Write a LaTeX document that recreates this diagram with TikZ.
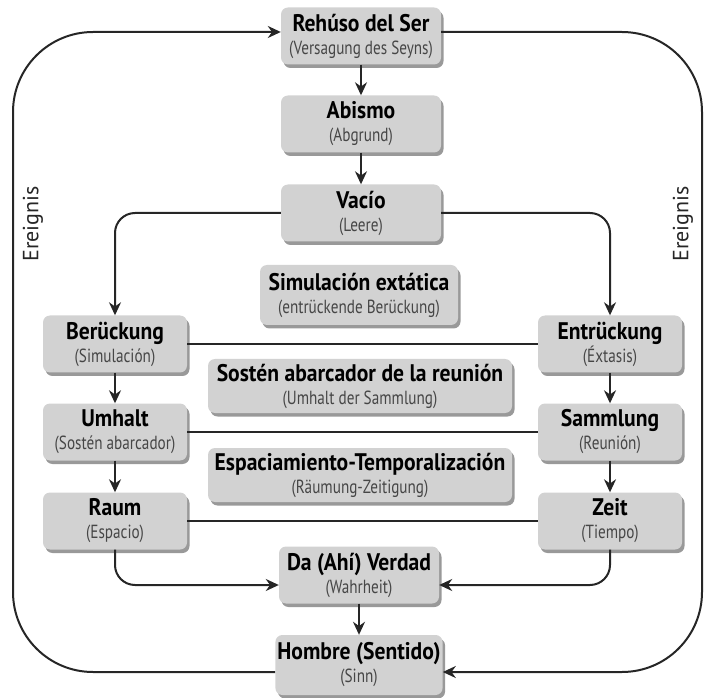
\documentclass[tikz,border=0pt]{standalone}
\usepackage{fontspec}
\setmainfont{PT Sans}[FakeStretch=0.9]
\newfontfamily\evfont{PT Sans}
\newfontfamily\subfont{PT Sans}[FakeStretch=0.8]
\usepackage{tikz}
\usetikzlibrary{calc,shadows,arrows.meta}
\definecolor{boxgray}{RGB}{210,210,210}
\definecolor{subgray}{RGB}{70,70,70}
\newcommand{\sublbl}{\subfont\fontsize{19}{19}\selectfont\mdseries\color{subgray}}
\tikzset{
% Box styles: one grey box, three widths
concept node/.style={rectangle,rounded corners=7,fill=boxgray,align=center,inner sep=2,
  drop shadow={shadow xshift=2.5,shadow yshift=-3.5,fill=black,opacity=.4},
  font=\fontsize{24}{23}\selectfont\bfseries},
side node/.style={concept node,minimum width=144,minimum height=57},
mid node/.style={concept node,minimum width=160,minimum height=57},
wide node/.style={concept node,minimum width=304,minimum height=54},
% Connectors
link/.style={line width=2,draw=black!85},
flow/.style={link,-{Stealth[length=13,width=12]}}
}

\begin{document}
\begin{tikzpicture}[x=1pt,y=1pt]
      \useasboundingbox (0,0) rectangle (704,697);
      % Middle column
      \node(ser)[mid node] at (361,661) {Rehúso del Ser\\{\sublbl (Versagung des Seyns)}};
      \node(abismo)[mid node] at (361,573) {Abismo\\{\sublbl (Abgrund)}};
      \node(vacio)[mid node] at (361,484) {Vacío\\{\sublbl (Leere)}};
      \node(simul)[concept node,minimum width=198,minimum height=60] at (359,402)
        {Simulación extática\\{\sublbl (entrückende Berückung)}};
      \node(sosten)[wide node] at (360,311) {Sostén abarcador de la reunión\\{\sublbl (Umhalt der Sammlung)}};
      \node(espac)[wide node] at (360,222) {Espaciamiento-Temporalización\\{\sublbl (Räumung-Zeitigung)}};
      \node(da)[mid node] at (359,122) {Da (Ahí) Verdad\\{\sublbl (Wahrheit)}};
      \node(hombre)[mid node,minimum height=60] at (359,32) {Hombre (Sentido)\\{\sublbl (Sinn)}};
      % Left column
      \node(beru)[side node] at (115,353) {Berückung\\{\sublbl (Simulación)}};
      \node(umhalt)[side node] at (115,265) {Umhalt\\{\sublbl (Sostén abarcador)}};
      \node(raum)[side node] at (115,176) {Raum\\{\sublbl (Espacio)}};
      % Right column
      \node(entr)[side node] at (610,353) {Entrückung\\{\sublbl (Éxtasis)}};
      \node(samm)[side node] at (610,265) {Sammlung\\{\sublbl (Reunión)}};
      \node(zeit)[side node] at (610,176) {Zeit\\{\sublbl (Tiempo)}};
      % Side labels
      \node(ev1)[rotate=90,font=\evfont\fontsize{22}{22}\selectfont,text=black!85] at (33,473) {Ereignis};
      \node(ev2)[rotate=90,font=\evfont\fontsize{22}{22}\selectfont,text=black!85] at (683,473) {Ereignis};
      % Down the middle
      \draw[flow] (ser) -- (abismo);
      \draw[flow] (abismo) -- (vacio);
      \draw[flow] (da) -- (hombre);
      % Split at the void
      \draw[flow,rounded corners=20] (vacio.west) -| (beru.north);
      \draw[flow,rounded corners=20] (vacio.east) -| (entr.north);
      % Down both columns
      \draw[flow] (beru) -- (umhalt);
      \draw[flow] (umhalt) -- (raum);
      \draw[flow] (entr) -- (samm);
      \draw[flow] (samm) -- (zeit);
      % Cross links
      \draw[link] (beru) -- (entr);
      \draw[link] (umhalt) -- (samm);
      \draw[link] (raum) -- (zeit);
      % Join at truth
      \draw[flow,rounded corners=20] (raum.south) |- ([yshift=-10]da.west);
      \draw[flow,rounded corners=20] (zeit.south) |- ([yshift=-10]da.east);
      % Outer loop
      \coordinate(west) at (13,350);
      \coordinate(east) at (702,350);
      \draw[flow,rounded corners=80] ([yshift=-7]hombre.west) -| (west) |- ([yshift=4]ser.west);
      \draw[flow,rounded corners=80] ([yshift=4]ser.east) -| (east) |- ([yshift=-7]hombre.east);
\end{tikzpicture}
\end{document}
